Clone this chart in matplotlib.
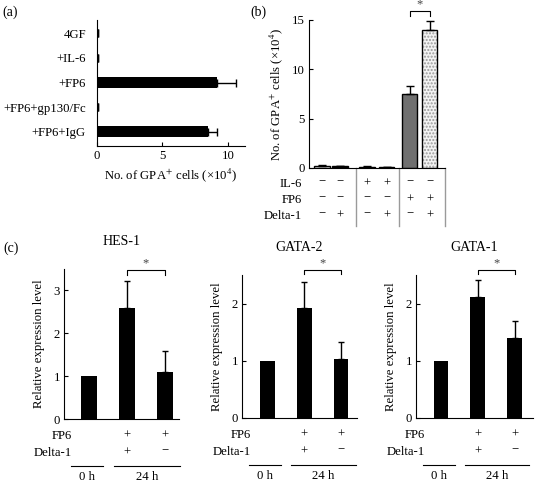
import matplotlib
matplotlib.use("Agg")
import matplotlib.pyplot as plt
from matplotlib.transforms import offset_copy
import numpy as np

plt.rcParams['font.family'] = ['Liberation Serif', 'DejaVu Serif']
plt.rcParams['mathtext.fontset'] = 'stix'
plt.rcParams['font.size'] = 9.2

# ---------------- data ----------------
a_labels = ['4GF', '+IL-6', '+FP6', '+FP6+gp130/Fc', '+FP6+IgG']
a_values = [0.1, 0.1, 9.15, 0.1, 8.5]
a_errors = [0.0, 0.0, 1.45, 0.0, 0.65]
a_ticks = [0, 5, 10]

b_values = [0.25, 0.2, 0.15, 0.1, 7.55, 14.0]
b_errors = [0.05, 0.05, 0.04, 0.03, 0.8, 0.9]
b_ticks = [0, 5, 10, 15]
b_il6 = ['−', '−', '+', '+', '−', '−']
b_fp6 = ['−', '−', '−', '−', '+', '+']
b_delta = ['−', '+', '−', '+', '−', '+']

c_genes = ['HES-1', 'GATA-2', 'GATA-1']
c_values = [[1.0, 2.58, 1.1], [1.0, 1.92, 1.03], [1.0, 2.12, 1.4]]
c_errors = [[0.0, 0.65, 0.48], [0.0, 0.45, 0.3], [0.0, 0.3, 0.3]]
c_yticks = [[0, 1, 2, 3], [0, 1, 2], [0, 1, 2]]
c_fp6 = ['', '+', '+']
c_delta = ['', '+', '−']
c_time = ['0 h', '24 h']

W, H = 540, 484
fig = plt.figure(figsize=(W / 100, H / 100), dpi=100)


def rect(x0, y0, x1, y1):
    return [x0 / W, 1 - y1 / H, (x1 - x0) / W, (y1 - y0) / H]


def px2pt(p):
    return p * 0.72


def sign_dy(s):
    # minus glyph sits a little low; lift it to the height of the plus
    return 1.5 if s == '−' else 0.0


# ---------------- (a) ----------------
axa = fig.add_axes(rect(97, 20, 245, 146))
ypos = np.arange(len(a_labels))
axa.barh(ypos, a_values, height=0.45, color='black')
axa.errorbar(a_values, ypos, xerr=[np.zeros(len(a_values)), a_errors],
             fmt='none', ecolor='black', elinewidth=1, capsize=3, capthick=1)
axa.set_ylim(len(a_labels) - 0.43, -0.53)
axa.set_xlim(0, 11.3)
axa.set_yticks(ypos)
axa.set_yticklabels(a_labels)
axa.set_xticks(a_ticks)
axa.tick_params(axis='y', length=0, pad=8)
axa.tick_params(axis='x', direction='in', length=3, pad=3)
for s in ['top', 'right']:
    axa.spines[s].set_visible(False)
axa.set_xlabel(r'No. of GPA$^{+}$ cells (×10$^{4}$)', labelpad=3)
fig.text(2 / W, 1 - 12 / H, '(a)', fontsize=10, va='center', ha='left')

# ---------------- (b) ----------------
axb = fig.add_axes(rect(309, 20, 445, 168))
bpos = np.array([0.68, 1.63, 3.05, 4.1, 5.3, 6.35])
bw = 0.8
facecols = ['white', 'black', 'black', 'black', '#707070', 'white']
for i in range(len(b_values)):
    if i == 5:
        axb.bar(bpos[i], b_values[i], width=bw, color='#f4f4f4',
                edgecolor='#9a9a9a', hatch='.....', linewidth=0)
        axb.bar(bpos[i], b_values[i], width=bw, fill=False,
                edgecolor='black', linewidth=1)
    else:
        axb.bar(bpos[i], b_values[i], width=bw, color=facecols[i],
                edgecolor='black', linewidth=1)
axb.errorbar(bpos, b_values, yerr=[np.zeros(len(b_values)), b_errors],
             fmt='none', ecolor='black', elinewidth=1, capsize=3, capthick=1)
axb.set_xlim(0, 7.16)
axb.set_ylim(0, 15)
axb.set_yticks(b_ticks)
axb.set_xticks([])
axb.tick_params(axis='y', direction='in', length=3, pad=3)
for s in ['top', 'right']:
    axb.spines[s].set_visible(False)
axb.set_ylabel(r'No. of GPA$^{+}$ cells (×10$^{4}$)', labelpad=5)
fig.text(250 / W, 1 - 12 / H, '(b)', fontsize=10, va='center', ha='left')

# table
rows_b = [('IL-6', b_il6, 16), ('FP6', b_fp6, 32), ('Delta-1', b_delta, 48)]
for name, signs, dy in rows_b:
    axb.annotate(name, xy=(0, 0), xycoords=('data', 'axes fraction'),
                 xytext=(-5, -px2pt(dy)), textcoords='offset points',
                 ha='right', va='center', annotation_clip=False)
    for xp, s in zip(bpos, signs):
        axb.annotate(s, xy=(xp, 0), xycoords=('data', 'axes fraction'),
                     xytext=(0, -px2pt(dy) + sign_dy(s)), textcoords='offset points',
                     ha='center', va='center', annotation_clip=False)
for xs in [2.47, 4.74, 7.16]:
    axb.plot([xs, xs], [0, -58 / 9.87], color='#9a9a9a', lw=1, clip_on=False)

# bracket
ybr = 15.9
axb.plot([bpos[4], bpos[4], bpos[5], bpos[5]], [ybr - 0.45, ybr, ybr, ybr - 0.45],
         color='black', lw=0.8, clip_on=False)
axb.text((bpos[4] + bpos[5]) / 2, ybr + 0.05, '*', ha='center', va='bottom',
         fontsize=9, color='#444444')

# ---------------- (c) ----------------
c_rects = [rect(64, 269, 179, 419), rect(242, 275, 357, 418), rect(416, 275, 533, 418)]
c_xlims = [(-0.66, 2.37), (-0.68, 2.43), (-0.68, 2.5)]
c_ylims = [(0, 3.5), (0, 2.5), (0, 2.5)]
c_br = [(3.47, 3.37), (2.59, 2.52), (2.59, 2.52)]
cpos = np.arange(3)
for k in range(3):
    ax = fig.add_axes(c_rects[k])
    ax.bar(cpos, c_values[k], width=0.4, color='black')
    ax.errorbar(cpos[1:], c_values[k][1:],
                yerr=[np.zeros(2), c_errors[k][1:]],
                fmt='none', ecolor='black', elinewidth=1, capsize=2.5, capthick=1)
    ax.set_xlim(*c_xlims[k])
    ax.set_ylim(*c_ylims[k])
    ax.set_yticks(c_yticks[k])
    ax.set_xticks([])
    ax.tick_params(axis='y', direction='in', length=3, pad=3)
    for s in ['top', 'right']:
        ax.spines[s].set_visible(False)
    ax.set_ylabel('Relative expression level', labelpad=6)
    ax.set_title(c_genes[k], fontsize=10, pad=17)
    yb, yb2 = c_br[k]
    ax.plot([1, 1, 2, 2], [yb2, yb, yb, yb2], color='black', lw=0.8, clip_on=False)
    ax.annotate('*', xy=(1.5, yb), xycoords='data', xytext=(0, 0.5),
                textcoords='offset points', ha='center', va='bottom',
                fontsize=9, color='#444444', annotation_clip=False)
    for name, signs, dy in [('FP6', c_fp6, 17), ('Delta-1', c_delta, 34)]:
        ax.annotate(name, xy=(-0.45, 0), xycoords=('data', 'axes fraction'),
                    xytext=(0, -px2pt(dy)), textcoords='offset points',
                    ha='right', va='center', annotation_clip=False)
        for xp, s in zip(cpos, signs):
            if s:
                ax.annotate(s, xy=(xp, 0), xycoords=('data', 'axes fraction'),
                            xytext=(0, -px2pt(dy) + sign_dy(s)),
                            textcoords='offset points',
                            ha='center', va='center', annotation_clip=False)
    tr = offset_copy(ax.get_xaxis_transform(), fig=fig, x=0, y=-47, units='dots')
    for (x0, x1), lab in zip([(-0.48, 0.37), (0.65, 2.4)], c_time):
        ax.plot([x0, x1], [0, 0], transform=tr, color='black', lw=0.8, clip_on=False)
        ax.annotate(lab, xy=((x0 + x1) / 2, 0), xycoords=('data', 'axes fraction'),
                    xytext=(0, -px2pt(58)), textcoords='offset points',
                    ha='center', va='center', annotation_clip=False)

fig.text(3 / W, 1 - 248 / H, '(c)', fontsize=10, va='center', ha='left')

fig.savefig('out.png', dpi=100)
